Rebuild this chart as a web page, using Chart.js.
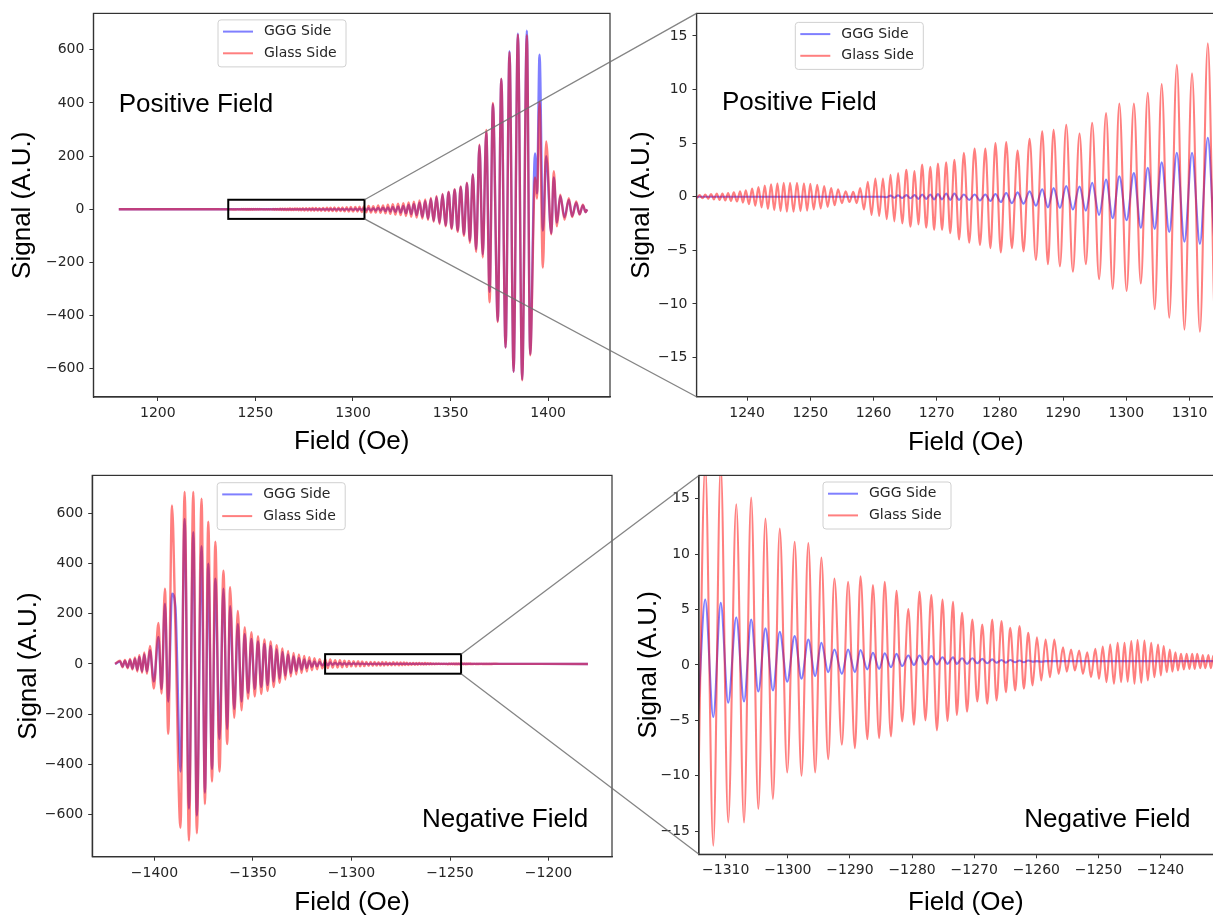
<!DOCTYPE html>
<html>
<head>
<meta charset="utf-8">
<title>GGG / Glass side signal</title>
<script src="https://cdn.jsdelivr.net/npm/chart.js@4.4.0/dist/chart.umd.min.js"></script>
<style>
  html, body { margin: 0; padding: 0; background: #fff; overflow: hidden; width: 1213px; height: 917px; }
  .panel { position: absolute; }
  #overlay { position: absolute; left: 0; top: 0; pointer-events: none; z-index: 10; }
</style>
</head>
<body>
<div class="panel" style="left:0;top:0;width:615px;height:462px"><canvas id="c-tl"></canvas></div>
<div class="panel" style="left:620px;top:0;width:620px;height:462px"><canvas id="c-tr"></canvas></div>
<div class="panel" style="left:0;top:462px;width:620px;height:460px"><canvas id="c-bl"></canvas></div>
<div class="panel" style="left:620px;top:462px;width:620px;height:460px"><canvas id="c-br"></canvas></div>
<canvas id="overlay" width="1213" height="917"></canvas>
<script>
// extrema (field in Oe, signal in A.U.)
const posField = [
  1180, 1228, 1231.6, 1232.05, 1232.5, 1232.95, 1233.4, 1233.85, 1234.3, 1234.75,
  1235.2, 1235.65, 1236.1, 1236.55, 1237.0, 1237.45, 1237.9, 1238.4, 1238.9, 1239.35,
  1239.8, 1240.3, 1240.8, 1241.3, 1241.8, 1242.3, 1242.8, 1243.3, 1243.8, 1244.3,
  1244.8, 1245.3, 1245.8, 1246.3, 1246.8, 1247.35, 1247.9, 1248.45, 1249.0, 1249.5,
  1250.0, 1250.55, 1251.1, 1251.65, 1252.2, 1252.75, 1253.3, 1253.85, 1254.4, 1255.0,
  1255.6, 1256.2, 1256.8, 1257.35, 1257.9, 1258.5, 1259.1, 1259.7, 1260.3, 1260.9,
  1261.5, 1262.1, 1262.7, 1263.3, 1263.9, 1264.55, 1265.2, 1265.85, 1266.5, 1267.1,
  1267.7, 1268.35, 1269.0, 1269.6, 1270.2, 1270.85, 1271.5, 1272.15, 1272.8, 1273.55,
  1274.3, 1275.15, 1276.0, 1276.85, 1277.7, 1278.5, 1279.3, 1280.15, 1281.0, 1281.9,
  1282.8, 1283.75, 1284.7, 1285.7, 1286.7, 1287.6, 1288.5, 1289.5, 1290.5, 1291.55,
  1292.6, 1293.6, 1294.6, 1295.7, 1296.8, 1297.85, 1298.9, 1300.05, 1301.2, 1302.3,
  1303.4, 1304.5, 1305.6, 1306.8, 1308.0, 1309.2, 1310.4, 1311.65, 1312.9, 1314.15,
  1315.4, 1316.65, 1317.9, 1319.15, 1320.4, 1321.75, 1323.1, 1324.45, 1325.8, 1327.15,
  1328.5, 1329.85, 1331.2, 1332.65, 1334.1, 1335.55, 1337.0, 1338.45, 1339.9, 1341.35,
  1342.8, 1344.35, 1345.9, 1347.45, 1349.0, 1350.55, 1352.1, 1353.65, 1355.2, 1356.85,
  1358.4, 1359.9, 1361.4, 1363.1, 1364.8, 1366.5, 1368.3, 1370.0, 1371.7, 1374.2,
  1376.0, 1378.2, 1380.2, 1382.3, 1384.5, 1386.7, 1389.1, 1390.8, 1393.3, 1394.3,
  1395.6, 1397.3, 1399.0, 1401.6, 1402.9, 1404.5, 1406.2, 1408.4, 1410.6, 1412.3,
  1414.4, 1416.1, 1417.8, 1419.2, 1420.0
];
const posGGG = [
  0, 0, 0, 0, 0, 0, 0, 0, 0, 0,
  0, 0, 0, 0, 0, 0, 0, 0, 0, 0,
  0, 0, 0, 0, 0, 0, 0, 0, 0, 0,
  0, 0, 0, 0, 0, 0, 0, 0, 0, 0,
  0, 0, 0, 0, 0, 0, 0, 0, 0, 0,
  0, 0, 0, 0, 0, 0, 0, 0, 0, 0,
  0, -0.05, 0.1, -0.1, 0.12, -0.12, 0.15, -0.15, 0.15, -0.2,
  0.2, -0.2, 0.2, -0.25, 0.25, -0.25, 0.3, -0.3, 0.3, -0.3,
  0.2, -0.3, 0.2, -0.35, 0.2, -0.4, 0.25, -0.5, 0.35, -0.6,
  0.4, -0.65, 0.5, -0.85, 0.7, -1.0, 0.8, -1.05, 1.0, -1.2,
  0.95, -1.3, 1.3, -1.7, 1.6, -2.0, 1.9, -2.2, 2.2, -2.9,
  2.7, -3.0, 3.2, -3.3, 4.1, -4.2, 4.1, -4.4, 5.5, -5,
  6, -6.5, 7.5, -8, 9, -10, 11, -12, 13, -15,
  16, -18, 20, -22, 25, -28, 31, -35, 39, -43,
  47, -51, 56, -60, 64, -70, 74, -80, 84, -94,
  98, -118, 131, -150, 240, -170, 290, -310, 395, -420,
  490, -520, 595, -611, 661, -640, 672, -545, 210, 60,
  582, -80, 200, -90, 120, -50, 50, -30, 35, -25,
  25, -18, 15, -10, 0
];
const posGlass = [
  0, 0, 0.1, -0.12, 0.15, -0.15, 0.2, -0.2, 0.25, -0.25,
  0.3, -0.3, 0.3, -0.35, 0.35, -0.4, 0.4, -0.45, 0.5, -0.55,
  0.6, -0.7, 0.75, -0.85, 0.9, -1.0, 1.05, -1.15, 1.15, -1.25,
  1.25, -1.35, 1.3, -1.4, 1.3, -1.4, 1.3, -1.35, 1.25, -1.3,
  1.2, -1.2, 1.1, -1.1, 1.0, -0.95, 0.8, -0.8, 0.7, -0.6,
  0.5, -0.5, 0.45, -0.6, 0.8, -1.2, 1.4, -1.7, 1.7, -1.8,
  1.7, -2.1, 2.05, -2.3, 2.2, -2.5, 2.5, -2.8, 2.4, -2.6,
  3.0, -2.9, 2.8, -3.1, 3.1, -3.1, 3.2, -3.4, 3.45, -4.0,
  4.1, -4.3, 4.5, -4.5, 4.5, -4.8, 5.0, -5.2, 5.1, -4.8,
  4.3, -5.1, 5.4, -5.9, 6.1, -6.3, 6.25, -6.5, 6.7, -7.0,
  5.9, -6.3, 6.9, -7.7, 7.8, -8.6, 8.7, -8.8, 8.7, -8.1,
  9.7, -10.5, 10.5, -11.3, 12.3, -12.4, 11.5, -12.6, 14.3, -13,
  15, -15, 17, -17, 19, -20, 21, -22, 23, -25,
  26, -28, 29, -31, 33, -35, 37, -40, 43, -47,
  50, -55, 58, -64, 66, -74, 76, -85, 86, -100,
  100, -126, 131, -160, 243, -181, 299, -350, 400, -424,
  491, -520, 591, -611, 657, -643, 655, -549, 120, 40,
  405, -219, 255, -94, 143, -64, 55, -39, 42, -29,
  30, -20, 17, -11, 0
];

const negField = [
  -1420.0, -1417.5, -1416.2, -1415.0, -1413.6, -1412.4, -1411.2, -1409.9, -1408.7, -1407.7,
  -1406.3, -1405.2, -1403.8, -1402.3, -1400.3, -1398.0, -1396.4, -1394.7, -1393.0, -1391.1,
  -1389.4, -1386.8, -1384.7, -1382.5, -1380.3, -1378.5, -1376.1, -1374.4, -1372.7, -1370.8,
  -1369.1, -1367.0, -1365.0, -1363.1, -1361.6, -1359.5, -1357.7, -1355.8, -1354.2, -1352.5,
  -1350.8, -1349.1, -1347.45, -1345.8, -1344.2, -1342.6, -1341.05, -1339.5, -1338.0, -1336.5,
  -1335.05, -1333.6, -1332.2, -1330.8, -1329.4, -1328.05, -1326.7, -1325.35, -1324.0, -1322.7,
  -1321.4, -1320.1, -1318.8, -1317.5, -1316.2, -1314.8, -1313.3, -1312.0, -1310.8, -1309.6,
  -1308.3, -1307.05, -1305.9, -1304.75, -1303.6, -1302.4, -1301.3, -1300.1, -1298.9, -1297.8,
  -1296.7, -1295.6, -1294.6, -1293.5, -1292.5, -1291.3, -1290.3, -1289.2, -1288.3, -1287.2,
  -1286.3, -1285.3, -1284.4, -1283.4, -1282.5, -1281.6, -1280.6, -1279.7, -1278.8, -1277.85,
  -1276.9, -1276.0, -1275.1, -1274.3, -1273.4, -1272.8, -1271.95, -1271.15, -1270.3, -1269.5,
  -1268.7, -1267.9, -1267.1, -1266.4, -1265.6, -1264.9, -1264.2, -1263.4, -1262.7, -1262.0,
  -1261.3, -1260.6, -1259.9, -1259.2, -1258.5, -1257.8, -1257.1, -1256.4, -1255.7, -1255.1,
  -1254.4, -1253.8, -1253.1, -1252.5, -1251.8, -1251.2, -1250.5, -1249.9, -1249.3, -1248.7,
  -1248.1, -1247.5, -1246.9, -1246.35, -1245.8, -1245.3, -1244.7, -1244.2, -1243.7, -1243.1,
  -1242.6, -1242.05, -1241.5, -1241.0, -1240.4, -1239.95, -1239.5, -1239.0, -1238.5, -1238.1,
  -1237.6, -1237.2, -1236.7, -1236.25, -1235.8, -1235.35, -1234.9, -1234.5, -1234.1, -1233.6,
  -1233.2, -1232.8, -1232.3, -1231.9, -1231.5, -1231.1, -1230.7, -1230.3, -1229.9, -1229.5,
  -1229.1, -1228.7, -1228.3, -1225, -1180
];
const negGGG = [
  0, 10, -10, 12, -13, 15, -18, 20, -24, 28,
  -30, 38, -30, 55, -70, 108, -100, 240, -150, 280,
  230, -430, 579, -578, 526, -605, 470, -514, 400, -420,
  340, -300, 300, -260, 230, -180, 160, -150, 120, -115,
  100, -100, 90, -92, 80, -84, 72, -70, 58, -58,
  48, -46, 38, -36, 30, -28, 24, -22, 18, -16,
  13, -11, 10, -9, 8, -6, 5.9, -4.7, 5.6, -3.4,
  4.3, -3.3, 4.1, -2.4, 3.3, -2.3, 3.0, -1.5, 2.6, -1.25,
  2.3, -1.0, 2.0, -0.65, 1.4, -0.8, 1.4, -0.65, 1.35, -0.4,
  1.1, -0.35, 1.05, -0.2, 1.0, -0.1, 0.85, 0, 0.85, 0.05,
  0.8, 0.05, 0.7, 0.1, 0.7, 0.1, 0.6, 0.1, 0.6, 0.15,
  0.55, 0.15, 0.5, 0.2, 0.45, 0.2, 0.45, 0.25, 0.4, 0.25,
  0.4, 0.3, 0.35, 0.3, 0.35, 0.35, 0.35, 0.35, 0.35, 0.35,
  0.35, 0.35, 0.35, 0.35, 0.35, 0.35, 0.35, 0.35, 0.35, 0.35,
  0.35, 0.35, 0.35, 0.35, 0.35, 0.35, 0.35, 0.35, 0.35, 0.35,
  0.35, 0.35, 0.35, 0.35, 0.35, 0.35, 0.35, 0.35, 0.35, 0.35,
  0.35, 0.35, 0.35, 0.35, 0.35, 0.35, 0.35, 0.35, 0.35, 0.35,
  0.35, 0.35, 0.35, 0.35, 0.35, 0.35, 0.35, 0.35, 0.35, 0.35,
  0.35, 0.35, 0.35, 0.3, 0
];
const negGlass = [
  0, 13, -13, 16, -17, 20, -22, 26, -30, 35,
  -35, 46, -39, 72, -98, 164, -118, 300, -279, 633,
  150, -654, 687, -705, 687, -676, 660, -560, 568, -470,
  488, -430, 372, -320, 306, -215, 212, -185, 147, -140,
  127, -130, 111, -120, 98, -108, 90, -92, 75, -75,
  62, -62, 52, -50, 44, -42, 38, -36, 32, -30,
  27, -25, 23, -21, 19, -17, 18, -16.3, 18, -14.2,
  14.5, -14.2, 15.1, -13.0, 13.2, -12.1, 12.3, -9.7, 11.1, -10.0,
  11.0, -9.7, 9.7, -8.5, 7.8, -7.2, 7.5, -7.5, 8.0, -6.7,
  7.2, -6.6, 7.5, -6.45, 6.7, -5.1, 5.05, -5.4, 6.6, -5.0,
  6.3, -5.9, 5.9, -5.05, 5.7, -4.5, 4.7, -4.2, 4.1, -3.3,
  3.65, -3.5, 4.1, -3.2, 3.95, -2.45, 3.35, -2.3, 3.5, -2.15,
  2.9, -1.85, 2.5, -1.4, 2.3, -1.1, 2.3, -0.8, 1.6, -0.6,
  1.4, -0.5, 1.3, -0.8, 1.15, -1.1, 1.45, -1.25, 1.65, -1.55,
  1.85, -1.7, 2.0, -1.55, 2.0, -1.5, 2.15, -1.7, 2.25, -1.6,
  2.2, -1.4, 2.0, -1.1, 1.85, -0.95, 1.7, -0.65, 1.4, -0.6,
  1.15, -0.5, 1.0, -0.4, 1.0, -0.35, 1.0, -0.35, 1.0, -0.3,
  0.9, -0.3, 0.9, -0.3, 0.85, -0.25, 0.8, -0.2, 0.75, -0.2,
  0.7, -0.15, 0.65, 0.3, 0
];

const seriesNames = ['GGG Side', 'Glass Side'];
const posWideTicks = [1200, 1250, 1300, 1350, 1400];
const posZoomTicks = [1240, 1250, 1260, 1270, 1280, 1290, 1300, 1310];
const negWideTicks = [-1400, -1350, -1300, -1250, -1200];
const negZoomTicks = [-1310, -1300, -1290, -1280, -1270, -1260, -1250, -1240];
const wideSignalTicks = [-600, -400, -200, 0, 200, 400, 600];
const zoomSignalTicks = [-15, -10, -5, 0, 5, 10, 15];

const BLUE = 'rgba(0, 0, 255, 0.5)';
const RED = 'rgba(255, 0, 0, 0.5)';
const TICK_FONT = { family: '"DejaVu Sans", sans-serif', size: 14 };
const BIG_FONT = { family: '"Liberation Sans", Arial, sans-serif', size: 26 };

Chart.defaults.font.family = '"DejaVu Sans", sans-serif';

// legend box, note text and zoom box, drawn after the lines
const panelDecor = {
  id: 'panelDecor',
  afterDatasetsDraw(chart, args, opts) {
    const { ctx, chartArea: a, scales } = chart;
    ctx.save();

    if (opts.box) {
      const x0 = scales.x.getPixelForValue(opts.box[0]);
      const x1 = scales.x.getPixelForValue(opts.box[1]);
      const y0 = scales.y.getPixelForValue(opts.box[3]);
      const y1 = scales.y.getPixelForValue(opts.box[2]);
      ctx.strokeStyle = '#000';
      ctx.lineWidth = 2;
      ctx.strokeRect(x0, y0, x1 - x0, y1 - y0);
    }

    ctx.strokeStyle = '#333';
    ctx.lineWidth = 1.2;
    ctx.strokeRect(a.left, a.top, a.right - a.left, a.bottom - a.top);

    ctx.font = '26px "Liberation Sans", Arial, sans-serif';
    ctx.fillStyle = '#000';
    ctx.textAlign = 'left';
    ctx.textBaseline = 'alphabetic';
    const ny = opts.noteFromBottom ? a.bottom - opts.noteY : a.top + opts.noteY;
    ctx.fillText(opts.note, a.left + opts.noteX, ny);

    const bx = a.left + opts.legendX, by = a.top + opts.legendY;
    const bw = 128, bh = 47;
    ctx.beginPath();
    ctx.roundRect(bx, by, bw, bh, 3);
    ctx.fillStyle = 'rgba(255,255,255,0.85)';
    ctx.fill();
    ctx.strokeStyle = '#d0d0d0';
    ctx.lineWidth = 1;
    ctx.stroke();
    const rows = [[seriesNames[0], BLUE, 11.7], [seriesNames[1], RED, 33.4]];
    ctx.font = '14px "DejaVu Sans", sans-serif';
    ctx.textBaseline = 'middle';
    rows.forEach(([name, col, dy]) => {
      ctx.strokeStyle = col;
      ctx.lineWidth = 2;
      ctx.beginPath();
      ctx.moveTo(bx + 5, by + dy);
      ctx.lineTo(bx + 35, by + dy);
      ctx.stroke();
      ctx.fillStyle = '#262626';
      ctx.fillText(name, bx + 46, by + dy);
    });
    ctx.restore();
  }
};

function minusSign(v) {
  return String(v).replace('-', '\u2212');
}

function makePanel(cfg) {
  const ggg = cfg.field.map((x, i) => ({ x: x, y: cfg.ggg[i] }));
  const glass = cfg.field.map((x, i) => ({ x: x, y: cfg.glass[i] }));
  const line = { pointRadius: 0, borderWidth: cfg.lineWidth, cubicInterpolationMode: 'monotone', fill: false };
  return new Chart(document.getElementById(cfg.id), {
    type: 'line',
    data: {
      datasets: [
        Object.assign({ label: seriesNames[0], data: ggg, borderColor: BLUE, order: 1 }, line),
        Object.assign({ label: seriesNames[1], data: glass, borderColor: RED, order: 0 }, line)
      ]
    },
    options: {
      responsive: true,
      maintainAspectRatio: false,
      devicePixelRatio: 1,
      animation: false,
      events: [],
      layout: { padding: cfg.pad },
      plugins: {
        legend: { display: false },
        tooltip: { enabled: false },
        panelDecor: cfg.decor
      },
      scales: {
        x: {
          type: 'linear',
          min: cfg.xRange[0],
          max: cfg.xRange[1],
          afterBuildTicks: s => { s.ticks = cfg.xTicks.map(v => ({ value: v })); },
          afterFit: s => { s.height = cfg.xH; },
          ticks: { font: TICK_FONT, color: '#262626', padding: 4, maxRotation: 0, callback: minusSign },
          grid: { drawOnChartArea: false, tickLength: 4, color: '#333' },
          border: { display: true, color: '#333', width: 1.2 },
          title: { display: true, text: 'Field (Oe)', font: BIG_FONT, color: '#000', padding: 0 }
        },
        y: {
          type: 'linear',
          min: cfg.yRange[0],
          max: cfg.yRange[1],
          afterBuildTicks: s => { s.ticks = cfg.yTicks.map(v => ({ value: v })); },
          afterFit: s => { s.width = cfg.yW; },
          ticks: { font: TICK_FONT, color: '#262626', padding: 5, callback: minusSign },
          grid: { drawOnChartArea: false, tickLength: 4, color: '#333' },
          border: { display: true, color: '#333', width: 1.2 },
          title: { display: true, text: 'Signal (A.U.)', font: BIG_FONT, color: '#000', padding: 0 }
        }
      }
    },
    plugins: [panelDecor]
  });
}

const tl = makePanel({
  id: 'c-tl', field: posField, ggg: posGGG, glass: posGlass, lineWidth: 2.4,
  xRange: [1167, 1431.7], yRange: [-706, 737], xTicks: posWideTicks, yTicks: wideSignalTicks,
  pad: { left: 7.7, top: 11.5, right: 5, bottom: 4.4 }, yW: 85.7, xH: 60.6,
  decor: { note: 'Positive Field', noteX: 25.3, noteY: 98.5, legendX: 124.6, legendY: 6.5,
           box: [1236.1, 1305.9, -36, 36] }
});
const tr = makePanel({
  id: 'c-tr', field: posField, ggg: posGGG, glass: posGlass, lineWidth: 2.1,
  xRange: [1232, 1317.2], yRange: [-18.66, 17.1], xTicks: posZoomTicks, yTicks: zoomSignalTicks,
  pad: { left: 5.9, top: 13.3, right: 5, bottom: 3.4 }, yW: 70.6, xH: 61.9,
  decor: { note: 'Positive Field', noteX: 25.5, noteY: 96.4, legendX: 98.8, legendY: 9 }
});
const bl = makePanel({
  id: 'c-bl', field: negField, ggg: negGGG, glass: negGlass, lineWidth: 2.4,
  xRange: [-1431.6, -1167.8], yRange: [-769.6, 752.7], xTicks: negWideTicks, yTicks: wideSignalTicks,
  pad: { left: 13.4, top: 7, right: 8, bottom: 3.4 }, yW: 78.8, xH: 61.9,
  decor: { note: 'Negative Field', noteX: 329.8, noteY: 30, noteFromBottom: true, legendX: 125, legendY: 7.3,
           box: [-1313.4, -1244.4, -39, 39] }
});
const br = makePanel({
  id: 'c-br', field: negField, ggg: negGGG, glass: negGlass, lineWidth: 2.1,
  xRange: [-1314.3, -1228.4], yRange: [-17.08, 17.1], xTicks: negZoomTicks, yTicks: zoomSignalTicks,
  pad: { left: 12.9, top: 8.7, right: 7.4, bottom: 3.4 }, yW: 66.1, xH: 64.3,
  decor: { note: 'Negative Field', noteX: 325.3, noteY: 27.6, noteFromBottom: true, legendX: 124, legendY: 6.6 }
});

// gray lines joining each zoom box to the panel that enlarges it
function connect(ctx, outer, outerPos, box, inner, innerPos) {
  const rx = outerPos[0] + outer.scales.x.getPixelForValue(box[1]);
  const ryTop = outerPos[1] + outer.scales.y.getPixelForValue(box[3]);
  const ryBot = outerPos[1] + outer.scales.y.getPixelForValue(box[2]);
  const a = inner.chartArea;
  ctx.beginPath();
  ctx.moveTo(rx, ryTop);
  ctx.lineTo(innerPos[0] + a.left, innerPos[1] + a.top);
  ctx.moveTo(rx, ryBot);
  ctx.lineTo(innerPos[0] + a.left, innerPos[1] + a.bottom);
  ctx.stroke();
}
const octx = document.getElementById('overlay').getContext('2d');
octx.strokeStyle = 'rgba(110,110,110,0.85)';
octx.lineWidth = 1.3;
connect(octx, tl, [0, 0], [1236.1, 1305.9, -36, 36], tr, [620, 0]);
connect(octx, bl, [0, 462], [-1313.4, -1244.4, -39, 39], br, [620, 462]);
</script>
</body>
</html>
